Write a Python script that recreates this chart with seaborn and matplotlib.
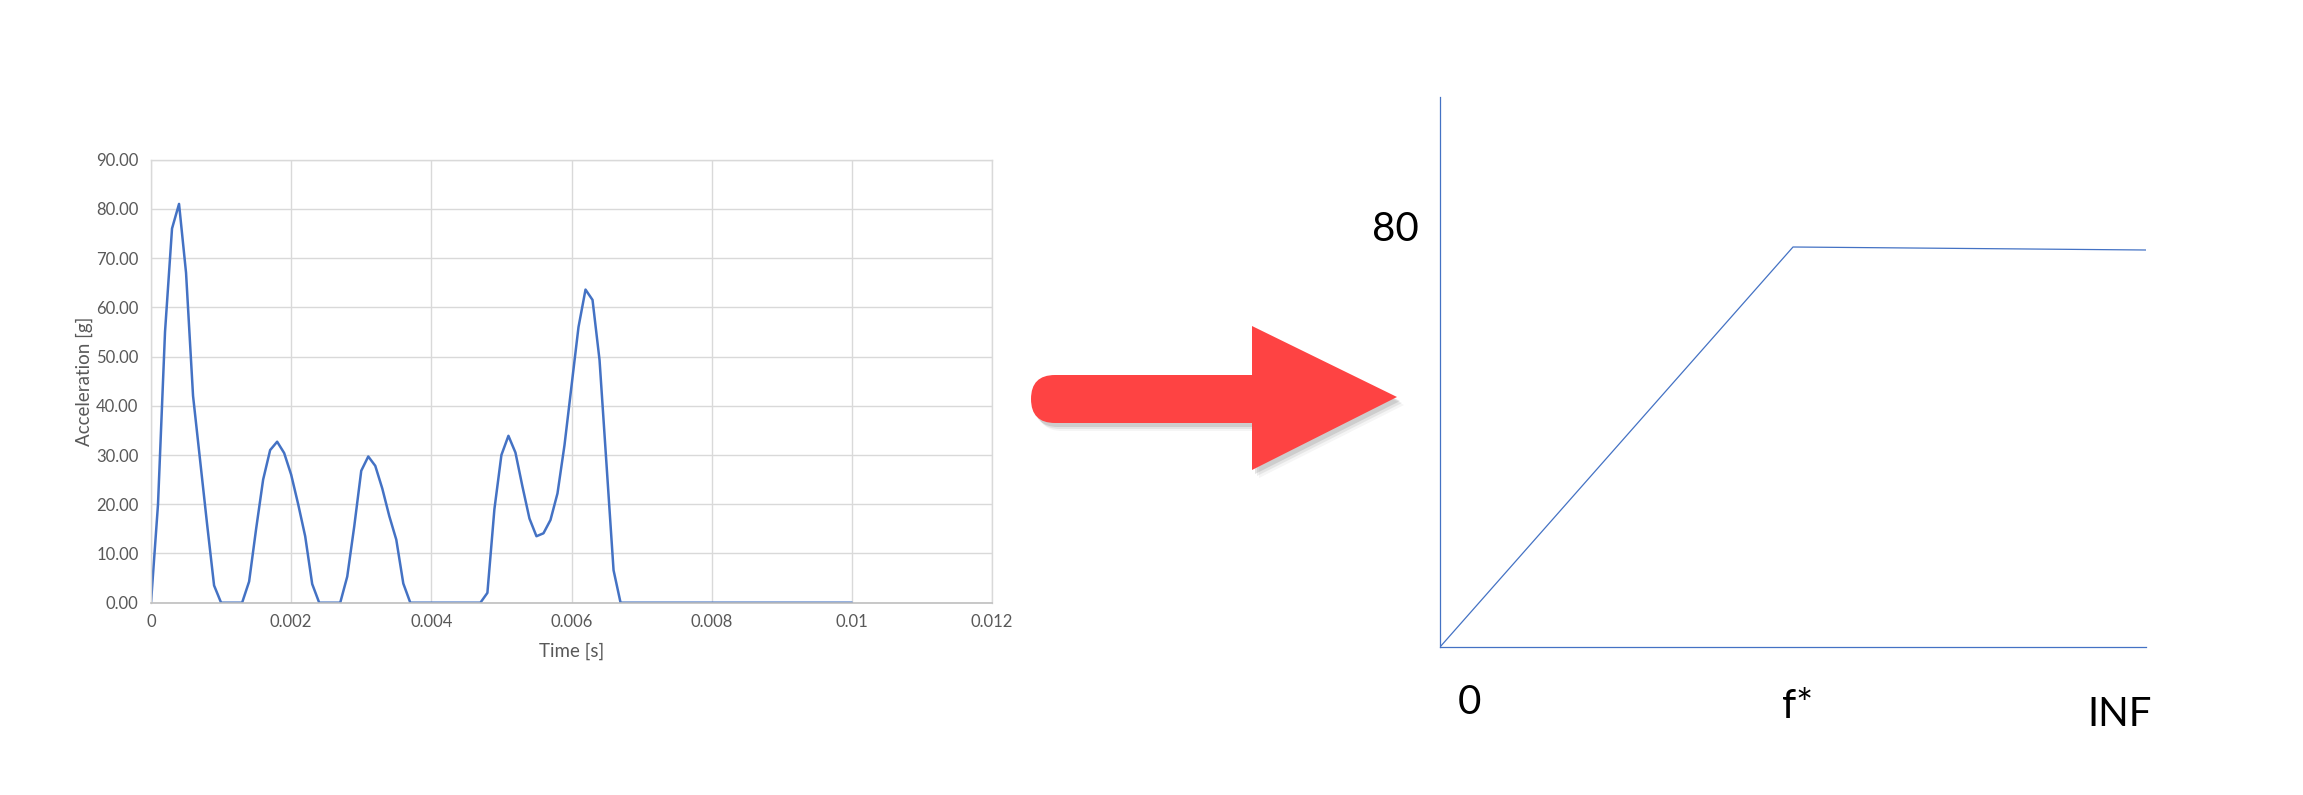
import numpy as np
import pandas as pd
import matplotlib.pyplot as plt
import matplotlib.patches as mpatches
import seaborn as sns

# measured acceleration, one sample every 0.1 ms
time_s = [0.0000, 0.0001, 0.0002, 0.0003, 0.0004, 0.0005, 0.0006, 0.0007, 0.0008, 0.0009,
          0.0010, 0.0011, 0.0012, 0.0013, 0.0014, 0.0015, 0.0016, 0.0017, 0.0018, 0.0019,
          0.0020, 0.0021, 0.0022, 0.0023, 0.0024, 0.0025, 0.0026, 0.0027, 0.0028, 0.0029,
          0.0030, 0.0031, 0.0032, 0.0033, 0.0034, 0.0035, 0.0036, 0.0037, 0.0038, 0.0039,
          0.0040, 0.0041, 0.0042, 0.0043, 0.0044, 0.0045, 0.0046, 0.0047, 0.0048, 0.0049,
          0.0050, 0.0051, 0.0052, 0.0053, 0.0054, 0.0055, 0.0056, 0.0057, 0.0058, 0.0059,
          0.0060, 0.0061, 0.0062, 0.0063, 0.0064, 0.0065, 0.0066, 0.0067, 0.0068, 0.0069,
          0.0070, 0.0071, 0.0072, 0.0073, 0.0074, 0.0075, 0.0076, 0.0077, 0.0078, 0.0079,
          0.0080, 0.0081, 0.0082, 0.0083, 0.0084, 0.0085, 0.0086, 0.0087, 0.0088, 0.0089,
          0.0090, 0.0091, 0.0092, 0.0093, 0.0094, 0.0095, 0.0096, 0.0097, 0.0098, 0.0099,
          0.0100]
accel_g = [0, 20, 55, 76, 81, 67, 42, 29, 16, 3.5,
           0, 0, 0, 0, 4.3, 15, 25, 31, 32.7, 30.4,
           26, 20, 13.5, 3.8, 0, 0, 0, 0, 5.3, 15.5,
           26.8, 29.7, 27.8, 23.2, 17.6, 12.8, 3.9, 0, 0, 0,
           0, 0, 0, 0, 0, 0, 0, 0, 2, 19,
           30, 33.9, 30.5, 23.6, 17.1, 13.5, 14.1, 16.8, 22.2, 32,
           44, 56, 63.6, 61.5, 49.3, 28, 6.6, 0, 0, 0,
           0, 0, 0, 0, 0, 0, 0, 0, 0, 0,
           0, 0, 0, 0, 0, 0, 0, 0, 0, 0,
           0, 0, 0, 0, 0, 0, 0, 0, 0, 0,
           0]

x_ticks = [0, 0.002, 0.004, 0.006, 0.008, 0.010, 0.012]
x_tick_labels = ['0', '0.002', '0.004', '0.006', '0.008', '0.01', '0.012']
y_ticks = [0, 10, 20, 30, 40, 50, 60, 70, 80, 90]

# sketched response spectrum on the right
spec_x = [0, 1, 2]          # 0, f*, INF
spec_y = [0, 80, 79.4]
spec_labels = ['0', 'f*', 'INF']
spec_label_x = [0.082, 1.014, 1.926]
spec_label_y = [-11.0, -12.0, -13.6]

sns.set_theme(style='white')
plt.rcParams['font.family'] = ['Lato', 'DejaVu Sans']

W, H = 2303, 795
fig = plt.figure(figsize=(W / 100, H / 100), dpi=100)
fig.patch.set_facecolor('white')

# ---- left: Excel-style time history
ax = fig.add_axes([151 / W, 1 - 602.7 / H, 841 / W, 443.1 / H])
df = pd.DataFrame({'t': time_s, 'a': accel_g})
sns.lineplot(data=df, x='t', y='a', ax=ax, color='#4472C4', linewidth=1.8)
ax.set_xlim(0, 0.012)
ax.set_ylim(0, 90)
ax.set_xticks(x_ticks)
ax.set_xticklabels(x_tick_labels)
ax.set_yticks(y_ticks)
ax.set_yticklabels([f'{v:.2f}' for v in y_ticks])
ax.grid(True, color='#d9d9d9', linewidth=1.0)
ax.set_axisbelow(True)
for s in ['left', 'top', 'right']:
    ax.spines[s].set_color('#d9d9d9')
    ax.spines[s].set_linewidth(1.0)
ax.spines['bottom'].set_color('#bfbfbf')
ax.spines['bottom'].set_linewidth(1.2)
ax.tick_params(axis='both', length=0, labelsize=12, colors='#595959')
ax.tick_params(axis='y', pad=9)
ax.tick_params(axis='x', pad=8)
ax.set_xlabel('Time [s]', fontsize=13.5, color='#595959')
ax.set_ylabel('Acceleration [g]', fontsize=13.5, color='#595959')
ax.xaxis.set_label_coords(0.5, -0.09)
ax.yaxis.set_label_coords(-0.069, 0.5)

# ---- right: hand-drawn style spectrum sketch
ax2 = fig.add_axes([1440 / W, 1 - 647 / H, 706 / W, 550 / H])
sns.lineplot(x=spec_x, y=spec_y, ax=ax2, color='#4472C4', linewidth=0.9)
ax2.set_xlim(0, 2)
ax2.set_ylim(0, 110)
ax2.set_xticks([])
ax2.set_yticks([])
for s in ['top', 'right']:
    ax2.spines[s].set_visible(False)
for s in ['left', 'bottom']:
    ax2.spines[s].set_color('#4472C4')
    ax2.spines[s].set_linewidth(0.9)
ax2.patch.set_alpha(0)
ax2.text(-0.059, 83.6, '80', ha='right', va='center', fontsize=29, color='black')
for lx, ly, lab in zip(spec_label_x, spec_label_y, spec_labels):
    ax2.text(lx, ly, lab, ha='center', va='center', fontsize=29,
             color='black', clip_on=False)

# ---- big red arrow between the two panels (pixel coordinates)
ov = fig.add_axes([0, 0, 1, 1], zorder=5)
ov.set_xlim(0, W)
ov.set_ylim(H, 0)
ov.axis('off')
ov.patch.set_alpha(0)


def draw_arrow(dx, dy, color, alpha):
    shaft = mpatches.FancyBboxPatch((1031 + dx, 375 + dy), 260, 48,
                                    boxstyle='round,pad=0,rounding_size=24',
                                    facecolor=color, edgecolor='none', alpha=alpha)
    head = mpatches.Polygon([(1252 + dx, 326 + dy), (1252 + dx, 470 + dy),
                             (1397 + dx, 397 + dy)], closed=True,
                            facecolor=color, edgecolor='none', alpha=alpha)
    ov.add_patch(shaft)
    ov.add_patch(head)


for k, a in [(7, 0.06), (5, 0.10), (3, 0.16)]:
    draw_arrow(k, k + 1, '#555555', a)
draw_arrow(0, 0, '#fe4343', 1.0)

fig.savefig('out.png', dpi=100, facecolor='white')
